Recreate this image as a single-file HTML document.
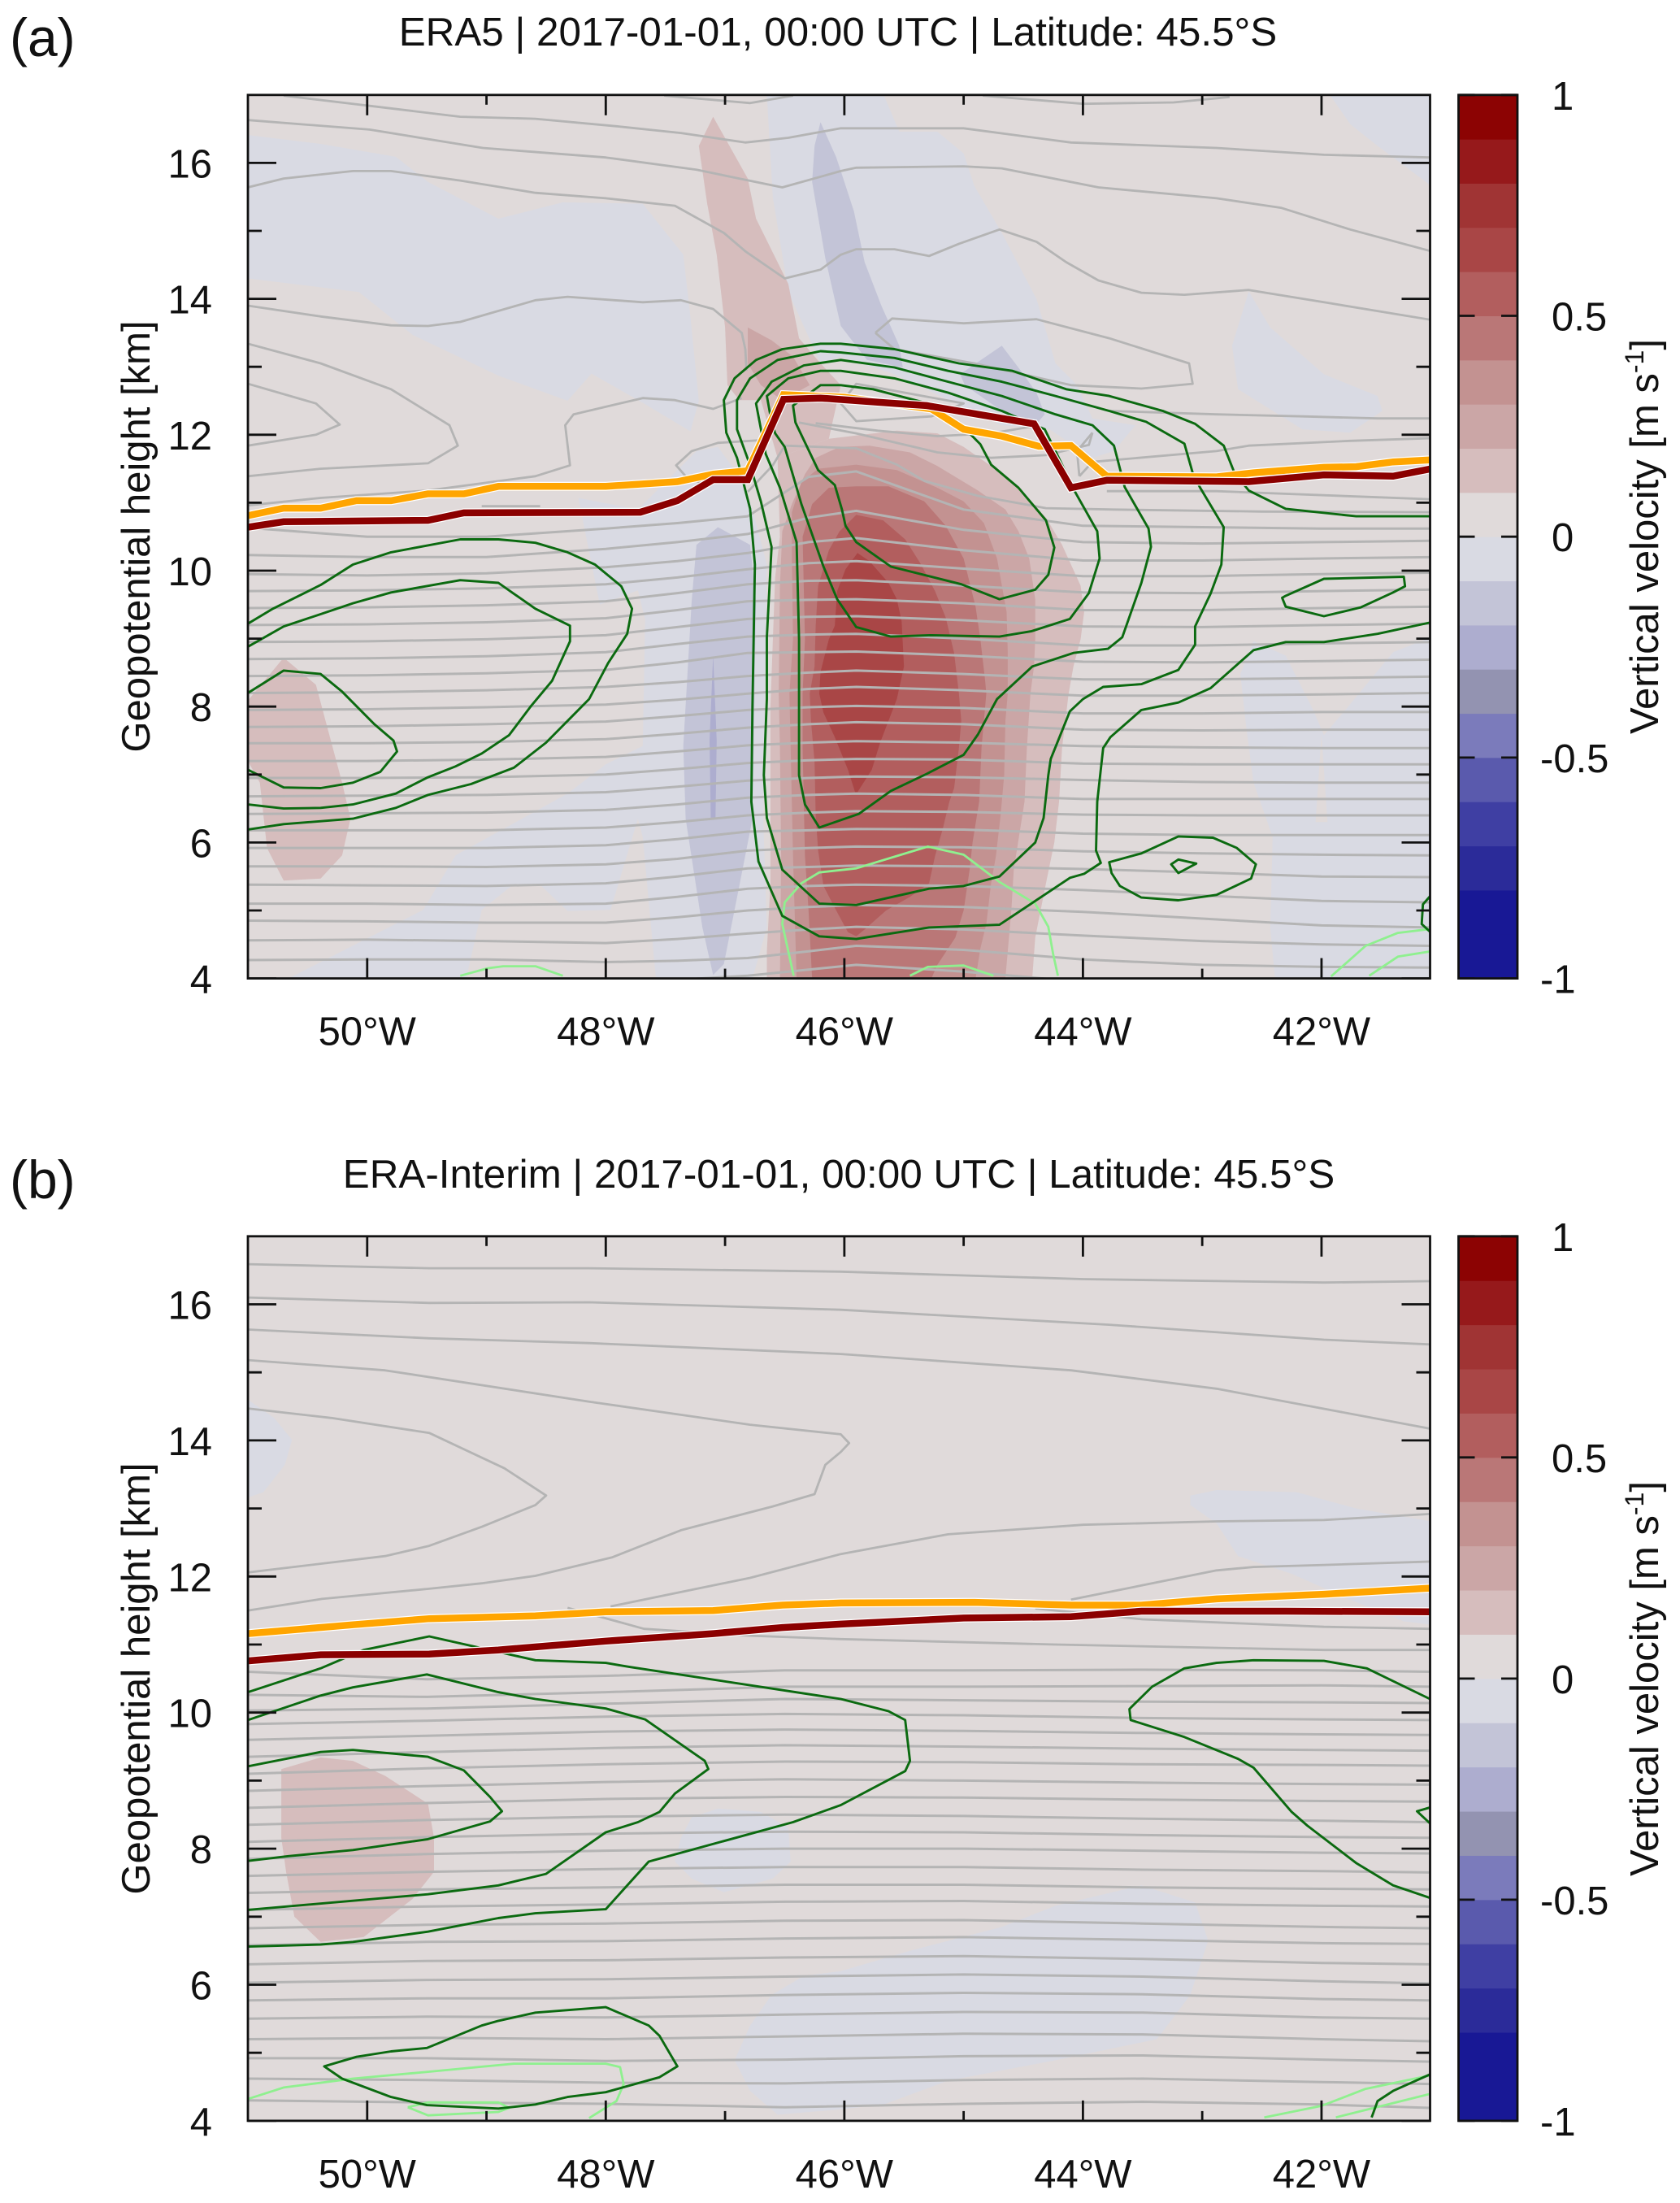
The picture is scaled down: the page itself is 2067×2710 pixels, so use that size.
<!DOCTYPE html>
<html lang="en">
<head>
<meta charset="utf-8">
<title>ERA5 and ERA-Interim vertical velocity cross sections</title>
<style>
html,body{margin:0;padding:0;background:#fff;}
svg{display:block;font-family:"Liberation Sans",Arial,sans-serif;fill:#111;}
</style>
</head>
<body>
<svg id="figure" xmlns="http://www.w3.org/2000/svg" width="2067" height="2710" viewBox="0 0 2067 2710">
  <rect x="0" y="0" width="2067" height="2710" fill="#ffffff"/>
  <defs>
    <clipPath id="clipA"><rect x="305" y="116.8" width="1454.5" height="1086.8"/></clipPath>
    <clipPath id="clipB"><rect x="305" y="1520.8" width="1454.5" height="1088.1"/></clipPath>
  </defs>
  <text x="12" y="69" font-size="66">(a)</text>
  <text x="1031" y="56" text-anchor="middle" font-size="49.4">ERA5 | 2017-01-01, 00:00 UTC | Latitude: 45.5°S</text>
  <text x="12" y="1474" font-size="66">(b)</text>
  <text x="1032" y="1461" text-anchor="middle" font-size="49.4">ERA-Interim | 2017-01-01, 00:00 UTC | Latitude: 45.5°S</text>
  <text transform="translate(184,660) rotate(-90)" text-anchor="middle" font-size="49">Geopotential height [km]</text>
  <text transform="translate(184,2065) rotate(-90)" text-anchor="middle" font-size="49">Geopotential height [km]</text>
  <text transform="translate(2040,660) rotate(-90)" text-anchor="middle" font-size="49">Vertical velocity [m s<tspan dy="-18" font-size="32">-1</tspan><tspan dy="18">]</tspan></text>
  <text transform="translate(2040,2065) rotate(-90)" text-anchor="middle" font-size="49">Vertical velocity [m s<tspan dy="-18" font-size="32">-1</tspan><tspan dy="18">]</tspan></text>
  <g id="panelA"></g>
  <g id="panelB"></g>
</svg>
<script>
/* ---------- axis values ---------- */
const xTickValues = [-50,-49,-48,-47,-46,-45,-44,-43,-42];
const xLabelValues = [-50,-48,-46,-44,-42];
const xTickLabels = ['50°W','48°W','46°W','44°W','42°W'];
const yTickValues = [4,5,6,7,8,9,10,11,12,13,14,15,16];
const yLabelValues = [4,6,8,10,12,14,16];
const colorTickValues = [-1,-0.5,0,0.5,1];
const colorTickLabels = ['-1','-0.5','0','0.5','1'];
const colorLevels = [-1,-0.9,-0.8,-0.7,-0.6,-0.5,-0.4,-0.3,-0.2,-0.1,0,0.1,0.2,0.3,0.4,0.5,0.6,0.7,0.8,0.9,1];
const colorBands = ['#181895','#181895','#2b2b99','#3f3fa3','#5a5aad','#7b7bbb','#9393b1','#adadcf','#c3c4d7','#d9dae3',
                    '#e0dada','#d6bdbd','#cba6a6','#c39291','#ba7777','#b25e5e','#a94646','#a03434','#96191b','#8c0303'];

/* ---------- panel (a) shaded vertical velocity [lon, km] ---------- */
const aBlueTopLeft = [[-51,16.41],[-50.39,16.28],[-49.76,16.09],[-49.49,15.72],[-48.9,15.18],[-48.36,15.42],[-47.69,15.4],[-47.35,14.65],[-47.29,13.73],[-47.22,12.5],[-47.29,12.05],[-47.69,12.47],[-48.12,12.9],[-48.32,12.5],[-48.9,12.87],[-49.62,13.47],[-50.07,14.1],[-51,14.3]];
const aBlueLower = [[-50.66,4],[-49.53,5.01],[-49.26,5.81],[-48.32,6.72],[-48,7.15],[-47.69,7.42],[-47.67,9.28],[-47.73,9.71],[-48.05,9.5],[-48.16,10.46],[-48.23,11.07],[-47.73,10.9],[-47.24,11.76],[-47.06,11.82],[-46.86,11.34],[-46.77,10.9],[-46.65,10.09],[-46.68,6.35],[-46.65,4.75],[-46.77,4],[-47.58,4],[-47.62,4.75],[-47.69,6.08],[-47.73,6.35],[-47.96,5.01],[-48.32,4.99],[-48.54,5.36],[-48.77,5.39],[-49.04,5.01],[-49.17,4]];
const aBlueCentral = [[-46.65,17],[-46.6,15.5],[-46.47,14.1],[-46.2,13.05],[-46.03,13.15],[-45.58,12.89],[-44.68,12.14],[-44.28,12.08],[-43.92,11.66],[-43.74,11.76],[-43.56,12.14],[-43.92,12.24],[-44.05,12.73],[-44.23,13.05],[-44.39,14],[-44.68,14.97],[-44.91,15.66],[-45,16.14],[-45.22,16.46],[-45.54,16.46],[-45.67,17]];
const aBlueRightMid = [[-42.61,14.11],[-42.43,13.58],[-41.98,12.89],[-41.53,12.57],[-41.49,12.35],[-41.76,12.03],[-42.16,12.08],[-42.7,12.67],[-42.75,13.31]];
const aBlueCorner = [[-41.93,17],[-41.76,16.57],[-41.53,16.25],[-41.08,15.66],[-41.08,17]];
const aBlueLowerRight = [[-42.68,8.48],[-42.57,8.96],[-42.3,8.75],[-42.07,7.95],[-41.98,7.58],[-41.8,7.95],[-41.4,8.8],[-41.08,9.02],[-41.08,4],[-42.39,4],[-42.43,4.75],[-42.41,6.08],[-42.57,6.88],[-42.63,7.68]];
const aPaleStreak = [[-42,7.6],[-41.95,6.3],[-42.05,6.3]];
const aBlueColumn = [[-47.24,10.38],[-47.06,10.64],[-46.79,10.38],[-46.74,9.55],[-46.77,6.35],[-46.83,5.81],[-47.01,4.21],[-47.1,4.05],[-47.19,4.75],[-47.33,6.35],[-47.35,7.42],[-47.28,9.55]];
const aBlueStripe = [[-47.1,8.75],[-47.07,7.5],[-47.08,6.35],[-47.12,6.35],[-47.13,7.5]];
const aBlueStreakTop = [[-46.2,16.6],[-46.07,16.09],[-46.03,15.88],[-45.92,15.29],[-45.83,14.54],[-45.69,13.9],[-45.54,13.31],[-45.51,12.99],[-45.81,13.1],[-46.03,13.6],[-46.16,14.6],[-46.27,15.72],[-46.25,16.25]];
const aBlueStreakArch = [[-44.68,13.31],[-44.52,12.94],[-44.39,12.62],[-44.32,12.3],[-44.43,12.08],[-44.68,12.35],[-44.99,12.73],[-45.03,12.89]];
const aRedLeft = [[-50.99,8.11],[-50.7,8.72],[-50.43,8.32],[-50.21,6.88],[-50.14,6.35],[-50.21,5.81],[-50.39,5.47],[-50.7,5.44],[-50.84,5.92],[-50.9,6.88],[-51,7.2]];
const aRedPlumeTop = [[-47.1,16.68],[-46.81,15.77],[-46.74,15.18],[-46.47,14.22],[-46.38,13.42],[-46.2,13.05],[-46.03,12.73],[-46.13,11.94],[-46.56,11.66],[-46.7,12.51],[-46.88,12.51],[-46.98,12.73],[-47,13.58],[-47.07,14.65],[-47.15,15.4],[-47.22,16.25]];
const aRedPlumeTop2 = [[-46.81,13.58],[-46.61,13.39],[-46.43,13.15],[-46.29,12.73],[-46.52,12.51],[-46.7,12.73],[-46.81,13.05]];
const aRedCore1 = [[-46.65,4],[-46.65,4.4],[-46.62,5.4],[-46.62,8],[-46.58,9.9],[-46.54,10.5],[-46.56,11.66],[-46.13,11.94],[-45.56,12.06],[-45.22,12.02],[-45,11.82],[-44.77,11.54],[-44.54,11.22],[-44.31,10.78],[-44.175,10.38],[-44.02,9.78],[-43.99,9.39],[-44.02,8.99],[-44.08,8.59],[-44.12,8.19],[-44.175,7.39],[-44.2,6.6],[-44.24,6],[-44.31,5.4],[-44.4,4.6],[-44.425,4]];
const aRedCore2 = [[-46.54,4],[-46.53,5.8],[-46.54,7.39],[-46.55,8.19],[-46.54,9.78],[-46.52,10.58],[-46.44,10.98],[-46.33,11.42],[-46.24,11.66],[-46.04,11.82],[-45.79,11.84],[-45.45,11.74],[-45.22,11.54],[-44.88,11.18],[-44.65,10.9],[-44.54,10.58],[-44.45,10.18],[-44.4,9.58],[-44.4,8.99],[-44.41,8.59],[-44.44,8.19],[-44.47,7.39],[-44.49,6.6],[-44.58,5.6],[-44.6,5],[-44.65,4]];
const aRedCore3 = [[-46.4,4],[-46.43,5.8],[-46.45,7.39],[-46.46,8.19],[-46.43,8.99],[-46.44,10.18],[-46.44,10.86],[-46.36,11.3],[-46.22,11.5],[-45.9,11.56],[-45.56,11.48],[-45.22,11.22],[-45,11.02],[-44.83,10.7],[-44.72,10.18],[-44.64,9.39],[-44.63,8.79],[-44.63,8.19],[-44.65,7.79],[-44.66,6.99],[-44.69,6.4],[-44.73,5.8],[-44.77,5.4],[-44.81,4.8],[-44.86,4.44],[-44.9,4]];
const aRedCore4 = [[-46.27,4],[-46.3,5],[-46.33,5.8],[-46.35,7.39],[-46.35,8.19],[-46.33,8.99],[-46.35,10.5],[-46.27,10.98],[-46.13,11.22],[-45.9,11.24],[-45.63,11.24],[-45.33,11.02],[-45.15,10.66],[-45,10.18],[-44.9,9.47],[-44.86,8.99],[-44.82,8.39],[-44.81,8.19],[-44.85,7.39],[-44.87,6.6],[-44.925,6],[-44.95,5.6],[-45,5],[-45.07,4.6],[-45.22,4.2],[-45.27,4]];
const aRedCore5 = [[-45.9,10.82],[-45.675,10.74],[-45.49,10.46],[-45.36,10.1],[-45.24,9.7],[-45.15,9.31],[-45.08,8.79],[-45.04,8.19],[-45.02,7.79],[-45.04,7.39],[-45.08,6.8],[-45.12,6.6],[-45.175,6.2],[-45.24,5.8],[-45.29,5.4],[-45.45,5.2],[-45.65,5],[-45.83,4.72],[-45.9,4.62],[-45.97,4.68],[-46.08,5.04],[-46.175,5.36],[-46.22,5.88],[-46.24,6.4],[-46.25,7.19],[-46.28,7.79],[-46.29,8.19],[-46.25,8.59],[-46.24,9.19],[-46.22,9.78],[-46.13,10.3],[-46.04,10.58]];
const aRedCore6 = [[-45.89,10.26],[-45.79,10.14],[-45.63,9.82],[-45.56,9.58],[-45.52,9.26],[-45.5,8.59],[-45.56,8.11],[-45.7,7.47],[-45.77,7.07],[-45.89,6.74],[-45.91,6.74],[-45.97,7.07],[-46.08,7.55],[-46.175,7.91],[-46.21,8.19],[-46.2,8.51],[-46.13,8.99],[-46.08,9.19],[-46.06,9.7],[-45.99,10.02]];
const aRegionSeries = [
  ['blue-top-left',-0.05,aBlueTopLeft],['blue-lower',-0.05,aBlueLower],['blue-central',-0.05,aBlueCentral],['blue-right-mid',-0.05,aBlueRightMid],['blue-corner',-0.05,aBlueCorner],['blue-lower-right',-0.05,aBlueLowerRight],['pale-streak',0.05,aPaleStreak],
  ['blue-column',-0.15,aBlueColumn],['blue-streak-top',-0.15,aBlueStreakTop],['blue-streak-arch',-0.15,aBlueStreakArch],['blue-stripe',-0.25,aBlueStripe],
  ['red-left',0.15,aRedLeft],['red-plume-top',0.15,aRedPlumeTop],['red-plume-top-inner',0.25,aRedPlumeTop2],
  ['red-core-1',0.15,aRedCore1],['red-core-2',0.25,aRedCore2],['red-core-3',0.35,aRedCore3],['red-core-4',0.45,aRedCore4],['red-core-5',0.55,aRedCore5],['red-core-6',0.65,aRedCore6]
];

/* ---------- panel (a) gray isolines ---------- */
const aGrayLons = [-51,-50,-49,-48,-47.4,-46.81,-46.3,-45.9,-45,-44,-43,-42,-41.08];
const aGrayRows = [
[3.98,3.98,3.97,3.95,3.98,4.04,4.13,4.2,4.1,3.95,3.9,3.9,3.9],
[4.27,4.28,4.28,4.24,4.26,4.3,4.4,4.48,4.42,4.28,4.2,4.17,4.16],
[4.56,4.57,4.55,4.52,4.58,4.66,4.72,4.76,4.72,4.63,4.55,4.5,4.48],
[4.85,4.84,4.82,4.82,4.9,5,5.05,5.08,5.05,4.98,4.88,4.78,4.75],
[5.1,5.1,5.08,5.1,5.2,5.32,5.36,5.38,5.36,5.3,5.22,5.14,5.12],
[5.38,5.37,5.36,5.4,5.5,5.62,5.64,5.66,5.65,5.61,5.56,5.5,5.49],
[5.65,5.65,5.64,5.68,5.76,5.88,5.92,5.94,5.93,5.87,5.84,5.82,5.81],
[5.92,5.92,5.92,5.96,6.05,6.16,6.18,6.2,6.19,6.13,6.11,6.11,6.11],
[6.18,6.18,6.18,6.22,6.3,6.4,6.44,6.46,6.45,6.41,6.4,6.4,6.4],
[6.42,6.43,6.44,6.48,6.56,6.66,6.7,6.72,6.7,6.64,6.64,6.64,6.64],
[6.68,6.69,6.7,6.74,6.82,6.91,6.95,6.97,6.96,6.92,6.89,6.88,6.88],
[6.95,6.95,6.96,7,7.08,7.17,7.21,7.23,7.22,7.16,7.15,7.15,7.15],
[7.2,7.2,7.22,7.26,7.34,7.43,7.47,7.49,7.47,7.42,7.4,7.39,7.39],
[7.46,7.46,7.48,7.52,7.6,7.69,7.74,7.77,7.74,7.66,7.65,7.66,7.66],
[7.7,7.71,7.74,7.78,7.86,7.95,7.99,8.01,7.98,7.9,7.9,7.92,7.92],
[7.95,7.96,7.99,8.03,8.1,8.19,8.26,8.29,8.24,8.16,8.16,8.18,8.2],
[8.2,8.21,8.24,8.29,8.36,8.45,8.5,8.53,8.48,8.4,8.4,8.42,8.44],
[8.45,8.46,8.49,8.54,8.65,8.79,8.8,8.81,8.75,8.66,8.65,8.67,8.69],
[8.7,8.71,8.74,8.8,8.92,9.03,9.06,9.07,9,8.9,8.9,8.93,8.95],
[8.95,8.96,8.99,9.05,9.17,9.29,9.32,9.33,9.27,9.18,9.17,9.2,9.22],
[9.2,9.21,9.24,9.3,9.42,9.55,9.57,9.58,9.52,9.42,9.42,9.45,9.47],
[9.45,9.46,9.49,9.55,9.67,9.8,9.85,9.86,9.78,9.68,9.67,9.7,9.72],
[9.7,9.71,9.74,9.8,9.9,10.02,10.11,10.14,10.03,9.92,9.92,9.95,9.97],
[9.95,9.93,9.96,10.05,10.14,10.26,10.42,10.48,10.3,10.15,10.15,10.18,10.2],
[10.23,10.2,10.2,10.32,10.42,10.54,10.78,10.88,10.6,10.42,10.4,10.42,10.44],
[10.63,10.5,10.5,10.62,10.7,10.8,11.38,11.46,10.9,10.66,10.64,10.62,10.62]
];
const aGrayTopA = [[-47.51,16.99],[-46.79,16.88],[-46.43,16.99]];
const aGrayTopB = [[-44.84,16.99],[-44,16.87],[-43.24,16.89],[-42.77,16.97]];
const aGray1 = [[-50.7,16.99],[-49.98,16.84],[-49.22,16.68],[-48.59,16.65],[-47.91,16.54],[-47.37,16.44],[-46.83,16.3],[-46.47,16.37],[-46.03,16.51],[-45,16.51],[-44.1,16.3],[-42.88,16.22],[-41.98,16.12],[-41.08,16.08]];
const aGray2 = [[-51,16.63],[-49.98,16.49],[-49.03,16.22],[-48,16.08],[-47.24,15.9],[-46.52,15.64],[-46.03,15.88],[-45.9,15.93],[-45,15.95],[-44.68,15.92],[-43.87,15.64],[-42.88,15.48],[-42.34,15.34],[-41.76,15.02],[-41.08,14.7]];
const aGray3 = [[-51,15.64],[-50.7,15.77],[-50.12,15.88],[-49.8,15.88],[-49.22,15.74],[-48.59,15.56],[-48,15.48],[-47.42,15.37],[-47.01,14.97],[-46.83,14.7],[-46.5,14.3],[-46.2,14.43],[-46.03,14.65],[-45.9,14.73],[-45.58,14.73],[-45.29,14.63],[-45.04,14.81],[-44.7,15.02],[-44.39,14.84],[-44.14,14.54],[-43.87,14.27],[-43.51,14.09],[-43.15,14.06],[-42.61,14.13],[-41.98,13.95],[-41.08,13.69]];
const aGray4 = [[-51,13.9],[-50.39,13.74],[-49.8,13.61],[-49.49,13.6],[-49.22,13.66],[-48.59,13.98],[-48.32,14.03],[-47.69,13.95],[-47.37,13.98],[-47.1,13.85],[-46.86,13.5],[-46.83,13.26],[-46.82,12.94]];
const aGray5 = [[-51,13.34],[-50.39,13.05],[-49.8,12.67],[-49.31,12.14],[-49.24,11.84],[-49.49,11.58],[-50.39,11.5],[-51,11.39]];
const aGray6 = [[-51,12.75],[-50.43,12.46],[-50.23,12.15],[-50.43,12],[-51,11.84]];
const aGray7 = [[-51,10.96],[-50.39,11.07],[-49.49,11.18],[-48.59,11.39],[-48.3,11.55],[-48.34,12.14],[-48.27,12.3],[-47.69,12.54],[-47.42,12.51],[-47.1,12.38],[-46.86,12.54]];
const aGray8 = [[-47.19,11.28],[-47.33,11.39],[-47.41,11.55],[-47.28,11.76],[-47.06,11.88],[-46.7,11.92]];
const aGray9 = [[-43.78,12.35],[-42.88,12.3],[-42.16,12.27],[-41.53,12.24],[-41.08,12.24]];
const aGray10 = [[-44.03,11.39],[-43.92,11.6],[-42.88,11.76],[-42.61,11.84],[-41.76,11.91],[-41.08,11.95]];
const aGray11 = [[-43.92,12.03],[-44.05,11.76],[-44.03,11.39]];
const aGray12 = [[-43.8,11.17],[-42.88,11.17],[-41.53,11.08],[-41.08,11.05]];
const aGray13 = [[-49.04,10.95],[-48.55,10.95]];
const aGray14 = [[-46.38,12.18],[-45.9,12.02],[-45.22,11.74],[-44.77,11.66],[-44.31,11.7],[-43.95,11.85],[-43.92,12.03]];
const aGray15 = [[-46.24,12.17],[-45.72,12.06],[-45.22,11.98],[-44.77,12.02],[-44.43,12.12]];
const aGray16 = [[-46.81,11.16],[-46.6,11.55],[-46.5,11.84],[-45.9,11.8],[-45.56,11.56],[-45.33,11.32],[-44.88,11.1],[-44.31,10.92],[-43.74,10.9],[-42.5,10.87],[-41.08,10.86]];
const aGrayLoop = [[-45.74,13.5],[-45.6,13.71],[-45,13.64],[-44.39,13.7],[-43.78,13.42],[-43.11,13.05],[-43.08,12.75],[-43.51,12.68],[-44.1,12.73],[-44.91,13.05],[-45.58,13.26],[-45.74,13.5]];
const aGrayPlume = [[-46.03,12.46],[-45.9,12.75],[-45,12.46],[-45.27,12.27],[-45.9,12.2],[-46.03,12.46]];
const aGraySeries = [aGrayTopA,aGrayTopB,aGray1,aGray2,aGray3,aGray4,aGray5,aGray6,aGray7,aGray8,aGray9,aGray10,aGray11,aGray12,aGray13,aGray14,aGray15,aGray16,aGrayLoop,aGrayPlume];

/* ---------- panel (a) contours ---------- */
const aGreen1 = [[-51,9.22],[-50.79,9.44],[-50.39,9.79],[-50.12,10.09],[-49.8,10.27],[-49.22,10.46],[-48.9,10.46],[-48.59,10.41],[-48.32,10.27],[-48.09,10.09],[-47.87,9.77],[-47.78,9.44],[-47.82,9.07],[-47.98,8.64],[-48.14,8.11],[-48.32,7.79],[-48.5,7.47],[-48.77,7.1],[-49.13,6.86],[-49.49,6.7],[-49.76,6.51],[-50.12,6.35],[-50.7,6.27],[-51,6.19]];
const aGreen2 = [[-51,8.88],[-50.7,9.18],[-50.39,9.36],[-50.12,9.52],[-49.8,9.68],[-49.22,9.86],[-48.9,9.82],[-48.77,9.66],[-48.59,9.44],[-48.3,9.19],[-48.3,8.96],[-48.45,8.38],[-48.63,8],[-48.81,7.58],[-49.04,7.31],[-49.26,7.12],[-49.49,6.96],[-49.76,6.72],[-50.12,6.56],[-50.39,6.51],[-50.7,6.5],[-51,6.56]];
const aGreen3 = [[-51,8.2],[-50.7,8.53],[-50.39,8.48],[-50.21,8.22],[-49.94,7.74],[-49.78,7.5],[-49.75,7.34],[-49.89,7.04],[-50.12,6.88],[-50.39,6.8],[-50.7,6.81],[-51,7.07]];
const aGreenArchOuter = [[-41.08,10.8],[-41.71,10.8],[-42.3,10.91],[-42.61,11.18],[-42.73,11.44],[-42.82,11.84],[-43.06,12.16],[-43.33,12.35],[-43.78,12.57],[-44.14,12.67],[-44.59,12.94],[-45.04,13.05],[-45.58,13.26],[-46.03,13.34],[-46.2,13.34],[-46.52,13.26],[-46.74,13.1],[-46.92,12.83],[-47.01,12.51],[-46.99,12.03],[-46.9,11.66],[-46.79,10.91],[-46.75,10.09],[-46.77,8],[-46.78,6.6],[-46.72,5.72],[-46.52,4.92],[-46.21,4.62],[-45.9,4.58],[-45.29,4.75],[-44.7,4.79],[-44.11,5.48],[-43.99,5.54],[-43.85,5.7],[-43.89,5.88],[-43.88,6.6],[-43.83,7.39],[-43.77,7.55],[-43.51,7.95],[-43.2,8.06],[-42.93,8.27],[-42.57,8.83],[-42.3,8.95],[-41.98,8.95],[-41.53,9.07],[-41.08,9.24]];
const aGreenArchB = [[-45.9,5.08],[-46.21,5.1],[-46.52,5.6],[-46.65,6.36],[-46.675,6.99],[-46.65,8.11],[-46.65,9.02],[-46.61,10.35],[-46.7,11.02],[-46.79,11.55],[-46.9,12.08],[-46.9,12.51],[-46.79,12.83],[-46.56,13.1],[-46.2,13.23],[-46.03,13.21],[-45.58,13.13],[-45.13,12.94],[-44.68,12.78],[-44.23,12.57],[-43.78,12.35],[-43.47,12.19],[-43.15,11.87],[-43.08,11.44],[-43.02,11.23],[-42.82,10.64],[-42.84,10.09],[-42.93,9.66],[-43.06,9.18],[-43.06,8.91],[-43.2,8.54],[-43.51,8.33],[-43.83,8.29],[-44,8.11],[-44.11,7.93],[-44.27,7.23],[-44.29,6.99],[-44.33,6.36],[-44.4,6],[-44.7,5.5],[-45,5.36],[-45.29,5.32]];
const aGreenArchC = [[-46.21,6.22],[-45.88,6.42],[-45.61,6.76],[-45.31,7.01],[-45,7.29],[-44.88,7.59],[-44.77,7.95],[-44.72,8.11],[-44.425,8.59],[-44.08,8.79],[-43.79,8.85],[-43.67,9.02],[-43.51,9.82],[-43.43,10.35],[-43.45,10.62],[-43.65,11.23],[-43.74,11.84],[-43.92,12.14],[-44.23,12.3],[-44.68,12.57],[-45.13,12.78],[-45.58,12.99],[-46.03,13.1],[-46.34,13.02],[-46.61,12.78],[-46.74,12.46],[-46.66,11.72],[-46.54,11.22],[-46.4,10.42],[-46.38,8.99],[-46.38,6.99],[-46.33,6.56]];
const aGreenArchD = [[-45.9,9.17],[-45.61,9.03],[-45.27,9.05],[-44.7,9.03],[-44.43,9.11],[-44.11,9.29],[-43.95,9.67],[-43.86,10.18],[-43.88,10.58],[-44.06,11.14],[-44.23,11.76],[-44.32,12.08],[-44.68,12.35],[-45.13,12.62],[-45.58,12.83],[-46.03,12.94],[-46.2,12.94],[-46.47,12.83],[-46.65,12.57],[-46.61,12.19],[-46.58,12.02],[-46.5,11.82],[-46.36,10.98],[-46.175,10.06],[-46.06,9.58]];
const aGreenArchE = [[-46.02,10.9],[-45.99,10.66],[-45.9,10.42],[-45.61,10.06],[-45.02,9.8],[-44.7,9.58],[-44.4,9.72],[-44.29,9.94],[-44.24,10.34],[-44.31,10.74],[-44.54,11.22],[-44.77,11.56],[-44.86,11.86],[-44.95,12.02],[-45.3,12.46],[-45.76,12.67],[-46.03,12.73],[-46.2,12.73],[-46.43,12.43],[-46.41,12.18],[-46.22,11.48],[-46.08,11.26]];
const aGreenBlobF = [[-42.33,9.6],[-42.3,9.47],[-41.98,9.33],[-41.67,9.46],[-41.4,9.68],[-41.3,9.77],[-41.31,9.91],[-41.98,9.88],[-42.3,9.63]];
const aGreenBlobG = [[-43.78,5.71],[-43.51,5.84],[-43.2,6.09],[-42.91,6.07],[-42.71,5.92],[-42.55,5.68],[-42.59,5.47],[-42.88,5.23],[-43.2,5.15],[-43.51,5.19],[-43.69,5.36],[-43.76,5.55]];
const aGreenBlobH = [[-43.26,5.68],[-43.2,5.75],[-43.05,5.69],[-43.2,5.55]];
const aGreenEdge = [[-41.08,5.23],[-41.15,5.09],[-41.16,4.8],[-41.08,4.67]];
const aGreenOpen = [aGreen1,aGreen2,aGreen3,aGreenArchOuter,aGreenEdge];
const aGreenClosed = [aGreenArchB,aGreenArchC,aGreenArchD,aGreenArchE,aGreenBlobF,aGreenBlobG,aGreenBlobH];
const aLight1 = [[-46.425,4.04],[-46.52,4.8],[-46.5,5.12],[-46.36,5.4],[-46.21,5.56],[-45.9,5.62],[-45.3,5.94],[-45,5.82],[-44.7,5.42],[-44.4,5.1],[-44.29,4.76],[-44.25,4.36],[-44.21,4.04]];
const aLight2 = [[-45.45,4.04],[-45.3,4.17],[-45,4.19],[-44.75,4.04]];
const aLight3 = [[-49.22,4.04],[-48.99,4.15],[-48.86,4.18],[-48.59,4.18],[-48.36,4.04]];
const aLight4 = [[-41.92,4.03],[-41.63,4.48],[-41.36,4.67],[-41.08,4.73]];
const aLight5 = [[-41.6,4.04],[-41.36,4.32],[-41.08,4.4]];
const aLightSeries = [aLight1,aLight2,aLight3,aLight4,aLight5];
const aOrange = [[-51,10.81],[-50.7,10.92],[-50.39,10.92],[-50.09,11.03],[-49.8,11.03],[-49.49,11.13],[-49.19,11.13],[-48.9,11.24],[-48,11.24],[-47.4,11.31],[-47.1,11.42],[-46.81,11.47],[-46.51,12.59],[-46,12.55],[-45.27,12.38],[-45,12.08],[-44.68,11.98],[-44.37,11.83],[-44.1,11.84],[-43.8,11.39],[-42.88,11.38],[-42.57,11.44],[-41.98,11.52],[-41.71,11.53],[-41.4,11.6],[-41.08,11.63]];
const aDarkRed = [[-51,10.64],[-50.7,10.72],[-49.49,10.74],[-49.19,10.85],[-47.71,10.86],[-47.4,11.03],[-47.1,11.34],[-46.81,11.34],[-46.51,12.52],[-46.2,12.54],[-45.58,12.46],[-45.31,12.43],[-44.41,12.16],[-44.1,11.22],[-43.8,11.33],[-42.61,11.31],[-41.98,11.41],[-41.4,11.39],[-41.08,11.5]];

/* ---------- panel (b) shaded vertical velocity ---------- */
const bBlueCorner = [[-51,14.6],[-50.78,14.33],[-50.63,14.01],[-50.69,13.64],[-50.87,13.24],[-51,13.16]];
const bBlueUpperRight = [[-43.1,13.19],[-42.88,13.27],[-42.21,13.24],[-41.71,13],[-41.08,12.81],[-41.08,11.29],[-41.31,11.34],[-41.76,11.66],[-42.25,12.04],[-42.7,12.3],[-42.88,12.78],[-43.1,13.05]];
const bBlueSmall = [[-47.37,8.16],[-47.28,8.46],[-47.06,8.59],[-46.7,8.54],[-46.47,8.31],[-46.45,7.81],[-46.6,7.56],[-47.01,7.36],[-47.28,7.56],[-47.42,7.81]];
const bBlueBig = [[-46.92,4.89],[-46.79,5.4],[-46.61,5.85],[-46.34,6.13],[-46.03,6.2],[-45.45,6.5],[-44.68,6.85],[-44.23,7.16],[-43.51,7.46],[-43.06,7.21],[-42.95,6.65],[-43.1,5.85],[-43.38,5.2],[-44.23,4.89],[-45.13,4.59],[-45.67,4.24],[-46.03,4.17],[-46.56,4.09],[-46.79,4.44]];
const bRedLeft = [[-50.72,9.17],[-50.39,9.34],[-50.12,9.29],[-49.85,9.07],[-49.49,8.66],[-49.44,8.16],[-49.44,7.66],[-49.62,7.26],[-50.03,6.7],[-50.39,6.63],[-50.61,7],[-50.68,7.66],[-50.72,8.16]];
const bRegionSeries = [['blue-corner',-0.05,bBlueCorner],['blue-upper-right',-0.05,bBlueUpperRight],['blue-small',-0.05,bBlueSmall],['blue-big',-0.05,bBlueBig],['red-left',0.15,bRedLeft]];

/* ---------- panel (b) gray isolines ---------- */
const bGrayLons = [-51,-49.5,-48,-46.5,-45,-43.5,-42,-41.08];
const bGrayRows = [
[4.3,4.27,4.25,4.2,4.25,4.28,4.24,4.19],
[4.62,4.6,4.56,4.55,4.6,4.62,4.57,4.54],
[4.92,4.92,4.88,4.9,4.95,4.96,4.9,4.87],
[5.2,5.22,5.2,5.24,5.28,5.27,5.2,5.17],
[5.5,5.53,5.52,5.56,5.6,5.59,5.52,5.5],
[5.77,5.8,5.8,5.85,5.88,5.86,5.79,5.77],
[6.03,6.07,6.08,6.12,6.15,6.12,6.05,6.02],
[6.3,6.35,6.36,6.4,6.42,6.38,6.32,6.3],
[6.58,6.63,6.64,6.68,6.7,6.66,6.61,6.6],
[6.83,6.88,6.9,6.94,6.95,6.9,6.85,6.83],
[7.1,7.15,7.18,7.22,7.23,7.19,7.16,7.15],
[7.35,7.4,7.43,7.47,7.47,7.43,7.41,7.4],
[7.6,7.66,7.7,7.73,7.73,7.69,7.67,7.65],
[7.85,7.92,7.97,8,8,7.97,7.94,7.93],
[8.1,8.17,8.22,8.25,8.24,8.2,8.17,8.16],
[8.35,8.42,8.47,8.5,8.48,8.44,8.41,8.39],
[8.6,8.67,8.73,8.76,8.75,8.72,8.7,8.69],
[8.85,8.92,8.98,9.02,9,8.97,8.95,8.94],
[9.1,9.18,9.24,9.28,9.27,9.24,9.23,9.22],
[9.35,9.42,9.48,9.52,9.5,9.47,9.45,9.44],
[9.6,9.66,9.72,9.75,9.73,9.7,9.68,9.67],
[9.83,9.88,9.94,9.98,9.96,9.92,9.9,9.89],
[10.03,10.06,10.13,10.2,10.18,10.16,10.15,10.14],
[10.26,10.23,10.3,10.38,10.38,10.39,10.4,10.38],
[10.6,10.49,10.54,10.62,10.62,10.63,10.62,10.6]
];
const bGray1 = [[-51,16.59],[-49.48,16.53],[-48.14,16.53],[-46.03,16.48],[-44,16.37],[-41.98,16.32],[-41.08,16.34]];
const bGray2 = [[-51,16.1],[-49.48,16.02],[-48.14,16.03],[-46.03,15.92],[-43.78,15.7],[-41.98,15.48],[-41.08,15.41]];
const bGray3 = [[-51,15.63],[-49.48,15.5],[-48.14,15.43],[-46.03,15.27],[-44.1,15.03],[-42.88,14.76],[-41.08,14.17]];
const bGray4 = [[-51,15.18],[-49.85,15.03],[-48.14,14.57],[-46.79,14.23],[-46.03,14.09],[-45.96,13.96],[-46.03,13.83],[-46.16,13.64],[-46.25,13.21],[-46.6,13.03],[-47.37,12.68],[-47.95,12.28],[-48.59,12.01],[-49.04,11.9],[-49.48,11.82],[-50.38,11.67],[-51,11.5]];
const bGray5 = [[-51,14.47],[-50.3,14.33],[-49.48,14.11],[-48.85,13.59],[-48.5,13.19],[-48.59,13.05],[-49.04,12.73],[-49.48,12.45],[-49.85,12.3],[-51,12.06]];
const bGray6 = [[-47.96,11.56],[-46.79,11.98],[-46.03,12.33],[-45.13,12.62],[-44,12.76],[-42.88,12.81],[-41.98,12.83],[-41.08,12.92]];
const bGray7 = [[-44.1,11.66],[-42.88,12.09],[-42.57,12.14],[-41.98,12.17],[-41.08,12.22]];
const bGray8 = [[-48.32,11.54],[-47.68,11.23],[-46.79,11.13],[-46.03,11.08],[-44.23,11],[-41.98,10.92],[-41.08,10.92]];
const bGray9 = [[-44.4,11.53],[-43.5,11.37],[-41.98,11.26],[-41.08,11.23]];
const bGraySeries = [bGray1,bGray2,bGray3,bGray4,bGray5,bGray6,bGray7,bGray8,bGray9];

/* ---------- panel (b) contours ---------- */
const bGreen1 = [[-51,10.3],[-50.39,10.65],[-50.03,10.92],[-49.48,11.12],[-48.59,10.77],[-48,10.73],[-47.8,10.67],[-46.03,10.2],[-45.63,10.02],[-45.49,9.89],[-45.45,9.29],[-45.49,9.14],[-46.03,8.64],[-46.43,8.39],[-47.64,7.81],[-48,7.11],[-48.59,7.05],[-48.9,6.98],[-49.49,6.78],[-50.12,6.63],[-50.39,6.59],[-51,6.56]];
const bGreen2 = [[-51,9.89],[-50.39,10.25],[-50.12,10.37],[-49.5,10.56],[-48.9,10.3],[-48.59,10.2],[-48,10.06],[-47.67,9.9],[-47.17,9.29],[-47.14,9.17],[-47.42,8.81],[-47.55,8.54],[-47.73,8.39],[-48,8.24],[-48.5,7.63],[-48.9,7.46],[-49.49,7.33],[-51,7.1]];
const bGreen3 = [[-51,9.21],[-50.39,9.42],[-50.12,9.45],[-49.49,9.35],[-49.19,9.15],[-48.97,8.76],[-48.87,8.55],[-48.97,8.4],[-49.49,8.14],[-50.12,7.98],[-50.66,7.89],[-51,7.82]];
const bGreen4 = [[-50.36,4.8],[-50.09,4.94],[-49.8,5.02],[-49.5,5.07],[-49.04,5.4],[-48.9,5.47],[-48.59,5.59],[-48,5.67],[-47.64,5.4],[-47.55,5.25],[-47.4,4.8],[-47.55,4.64],[-48,4.42],[-48.32,4.35],[-48.59,4.24],[-48.9,4.18],[-49.5,4.23],[-49.8,4.35],[-50.21,4.62]];
const bGreen5 = [[-41.08,10.19],[-41.62,10.65],[-41.98,10.76],[-42.57,10.77],[-42.88,10.73],[-43.15,10.65],[-43.42,10.38],[-43.6,10.07],[-43.61,10.05],[-43.6,9.89],[-43.15,9.64],[-42.7,9.32],[-42.57,9.19],[-42.25,8.54],[-42.12,8.34],[-41.71,7.79],[-41.4,7.46],[-41.08,7.27]];
const bGreen6 = [[-41.08,8.61],[-41.2,8.55],[-41.09,8.37]];
const bGreen7 = [[-41.08,4.69],[-41.4,4.44],[-41.53,4.29],[-41.58,4.05]];
const bGreenOpen = [bGreen1,bGreen2,bGreen3,bGreen5,bGreen6,bGreen7];
const bGreenClosed = [bGreen4];
const bLight1 = [[-51,4.32],[-50.7,4.49],[-50.12,4.62],[-49.49,4.72],[-48.77,4.84],[-48,4.84],[-47.88,4.79],[-47.85,4.54],[-47.91,4.29],[-48.14,4.04]];
const bLight2 = [[-49.66,4.2],[-49.49,4.08],[-48.9,4.13],[-48.81,4.19],[-48.9,4.27],[-49.49,4.27],[-49.66,4.2]];
const bLight3 = [[-42.48,4.05],[-42,4.22],[-41.63,4.47],[-41.08,4.67]];
const bLight4 = [[-41.88,4.05],[-41.4,4.26],[-41.08,4.4]];
const bLightSeries = [bLight1,bLight2,bLight3,bLight4];
const bOrange = [[-51,11.16],[-50.12,11.29],[-49.48,11.38],[-48.59,11.42],[-48,11.48],[-47.1,11.5],[-46.52,11.58],[-46.03,11.61],[-44.91,11.62],[-44.1,11.58],[-43.51,11.58],[-42.88,11.67],[-41.98,11.74],[-41.08,11.83]];
const bDarkRed = [[-51,10.76],[-50.39,10.85],[-49.48,10.86],[-48.9,10.92],[-48,11.05],[-47.1,11.16],[-46.52,11.25],[-46.03,11.3],[-45,11.39],[-44.1,11.41],[-43.51,11.49],[-42.3,11.49],[-41.08,11.48]];

/* ---------- scales and drawing ---------- */
const NS = 'http://www.w3.org/2000/svg';
const lonDomain = [-51,-41.09];
const xRange = [305,1759.5];
const kmDomain = [4,17];
const cbarLeft = 1794.5, cbarRight = 1867;

function xScale(lon){return xRange[0]+(lon-lonDomain[0])*(xRange[1]-xRange[0])/(lonDomain[1]-lonDomain[0]);}
function yScaleFor(bottom,top){return function(km){return bottom-(km-kmDomain[0])*(bottom-top)/(kmDomain[1]-kmDomain[0]);};}
function cScaleFor(bottom,top){return function(v){return bottom-(v+1)*(bottom-top)/2;};}
function bandColor(v){for(let i=0;i<colorBands.length;i++){if(v>=colorLevels[i]&&v<colorLevels[i+1])return colorBands[i];}return colorBands[colorBands.length-1];}
function mk(parent,tag,attrs,text){const el=document.createElementNS(NS,tag);for(const k in attrs)el.setAttribute(k,attrs[k]);if(text!==undefined)el.textContent=text;parent.appendChild(el);return el;}
function pathOf(points,y,closed){return points.map(function(p,i){return (i?'L':'M')+xScale(p[0]).toFixed(1)+' '+y(p[1]).toFixed(1);}).join('')+(closed?'Z':'');}

function drawPanel(g,clipId,bottom,top,regions,grayLons,grayRows,graySeries,greenOpen,greenClosed,lightSeries,orange,darkRed){
  const y=yScaleFor(bottom,top);
  const c=cScaleFor(bottom,top);
  const plot=mk(g,'g',{'clip-path':'url(#'+clipId+')'});
  
  
  const bg=mk(plot,'rect',{x:xRange[0],y:top,width:xRange[1]-xRange[0],height:bottom-top,fill:bandColor(0.05)});
  
  
  regions.forEach(function(r){
    const el=mk(plot,'path',{d:pathOf(r[2],y,true),fill:bandColor(r[1]),stroke:'none'});
    
    
  });
  grayRows.forEach(function(row){
    const el=mk(plot,'path',{d:pathOf(row.map(function(v,i){return [grayLons[i],v];}),y,false),fill:'none',stroke:'#b4b4b4','stroke-width':3,'stroke-linejoin':'round'});
    
    
  });
  graySeries.forEach(function(pts){
    const el=mk(plot,'path',{d:pathOf(pts,y,false),fill:'none',stroke:'#b4b4b4','stroke-width':2.8,'stroke-linejoin':'round'});
    
    
  });
  lightSeries.forEach(function(pts){
    const el=mk(plot,'path',{d:pathOf(pts,y,false),fill:'none',stroke:'#8ff08f','stroke-width':2.8,'stroke-linejoin':'round'});
    
    
  });
  greenOpen.forEach(function(pts){
    const el=mk(plot,'path',{d:pathOf(pts,y,false),fill:'none',stroke:'#0b6a10','stroke-width':2.9,'stroke-linejoin':'round'});
    
    
  });
  greenClosed.forEach(function(pts){
    const el=mk(plot,'path',{d:pathOf(pts,y,true),fill:'none',stroke:'#0b6a10','stroke-width':2.9,'stroke-linejoin':'round'});
    
    
  });
  [[orange,'#ffa500','era5-tropopause-orange'],[darkRed,'#8b0000','tropopause-dark-red']].forEach(function(s){
    const halo=mk(plot,'path',{d:pathOf(s[0],y,false),fill:'none',stroke:'#ffffff','stroke-width':11,'stroke-linejoin':'miter'});
    
    
    const line=mk(plot,'path',{d:pathOf(s[0],y,false),fill:'none',stroke:s[1],'stroke-width':8.5,'stroke-linejoin':'miter'});
    
    
  });

  /* axis ticks */
  xTickValues.forEach(function(v){
    const len=xLabelValues.indexOf(v)>=0?25:12;
    const x=xScale(v);
    const t1=mk(g,'line',{x1:x,x2:x,y1:top,y2:top+len,stroke:'#111','stroke-width':2.8});
    
    
    const t2=mk(g,'line',{x1:x,x2:x,y1:bottom,y2:bottom-len,stroke:'#111','stroke-width':2.8});
    
    
  });
  yTickValues.forEach(function(v){
    const len=yLabelValues.indexOf(v)>=0?35:17;
    const yy=y(v);
    const t1=mk(g,'line',{x1:xRange[0],x2:xRange[0]+len,y1:yy,y2:yy,stroke:'#111','stroke-width':2.8});
    
    
    const t2=mk(g,'line',{x1:xRange[1],x2:xRange[1]-len,y1:yy,y2:yy,stroke:'#111','stroke-width':2.8});
    
    
  });
  const frame=mk(g,'rect',{x:xRange[0],y:top,width:xRange[1]-xRange[0],height:bottom-top,fill:'none',stroke:'#111','stroke-width':2.8});
  
  

  /* tick labels */
  xLabelValues.forEach(function(v,i){
    const t=mk(g,'text',{x:xScale(v),y:bottom+82,'text-anchor':'middle','font-size':49},xTickLabels[i]);
    
    
  });
  yLabelValues.forEach(function(v){
    const t=mk(g,'text',{x:261,y:y(v)+18,'text-anchor':'end','font-size':49},String(v));
    
    
  });

  /* colour bar */
  colorBands.forEach(function(col,i){
    const y1=c(colorLevels[i+1]),y0=c(colorLevels[i]);
    const r=mk(g,'rect',{x:cbarLeft,y:y1,width:cbarRight-cbarLeft,height:y0-y1+0.5,fill:col});
    
    
  });
  const cf=mk(g,'rect',{x:cbarLeft,y:top,width:cbarRight-cbarLeft,height:bottom-top,fill:'none',stroke:'#111','stroke-width':2.8});
  
  
  colorTickValues.forEach(function(v,i){
    const yy=c(v);
    const t1=mk(g,'line',{x1:cbarLeft,x2:cbarLeft+20,y1:yy,y2:yy,stroke:'#111','stroke-width':2.8});
    
    
    const t2=mk(g,'line',{x1:cbarRight,x2:cbarRight-20,y1:yy,y2:yy,stroke:'#111','stroke-width':2.8});
    
    
    const neg=v<0;
    const t=mk(g,'text',{x:neg?1895:1909,y:yy+18,'font-size':49},colorTickLabels[i]);
    
    
  });
}

drawPanel(document.getElementById('panelA'),'clipA',1203.6,116.8,aRegionSeries,aGrayLons,aGrayRows,aGraySeries,aGreenOpen,aGreenClosed,aLightSeries,aOrange,aDarkRed);
drawPanel(document.getElementById('panelB'),'clipB',2608.9,1520.8,bRegionSeries,bGrayLons,bGrayRows,bGraySeries,bGreenOpen,bGreenClosed,bLightSeries,bOrange,bDarkRed);
</script>
</body>
</html>
